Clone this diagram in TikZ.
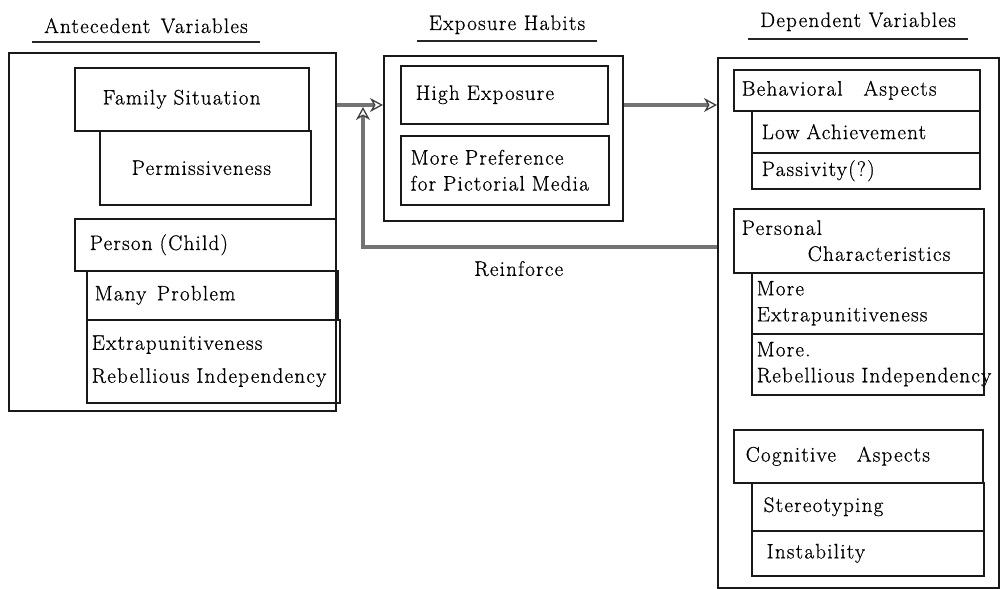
\documentclass[tikz,border=0pt]{standalone}
\usepackage{fontspec}
\setmainfont{Latin Modern Roman}[LetterSpace=6,FakeBold=0.7]
\usetikzlibrary{arrows.meta}
\begin{document}
\begin{tikzpicture}[x=1pt,y=-1pt,
  every node/.style={font=\fontsize{21}{26}\selectfont},
  box/.style={draw=black!90,line width=1.5pt,anchor=north west,inner ysep=0pt,align=left},
  flow/.style={draw=black!55,line width=3.5pt,-{Stealth[open,length=13pt,width=14pt,inset=4pt,line width=1.3pt,black!75]}},
  rule/.style={draw=black!85,line width=1.8pt}]
\useasboundingbox (0,0) rectangle (1005,589);
\def\cell#1#2#3#4#5#6#7{%
  \pgfmathsetmacro\cellw{#4-#2}%
  \pgfmathsetmacro\cellh{#5-#3}%
  \pgfmathsetmacro\cellt{#4-#2-2*#6}%
  \node[box,minimum width=\cellw pt,minimum height=\cellh pt,text width=\cellt pt,inner xsep=#6pt] (#1) at (#2,#3) {#7};}
% titles
\node[anchor=base,inner xsep=12pt] (anttitle) at (146,33) {Antecedent\enspace Variables};
\node[anchor=base,inner xsep=12pt] (expotitle) at (507,30) {Exposure Habits};
\node[anchor=base,inner xsep=12pt] (deptitle) at (858,27) {Dependent Variables};
\draw[rule] ([yshift=-9pt]anttitle.base west) -- ([yshift=-9pt]anttitle.base east);
\draw[rule] ([yshift=-11pt]expotitle.base west) -- ([yshift=-11pt]expotitle.base east);
\draw[rule] ([yshift=-12pt]deptitle.base west) -- ([yshift=-12pt]deptitle.base east);
% antecedent variables
\cell{ante}{8}{52}{335}{410}{0}{}
\cell{fam}{74}{67}{308}{130}{28}{Family Situation}
\cell{perm}{99}{130}{310}{204}{32}{Permissiveness}
\cell{pers}{74}{218}{335}{270}{15}{Person (Child)}
\cell{many}{86}{270}{337}{319}{8}{Many\enspace Problem}
\cell{extr}{86}{319}{339}{402}{5}{Extrapunitiveness\\[7pt]\mbox{Rebellious Independency}}
% exposure habits
\cell{expo}{383}{55}{622}{220}{0}{}
\cell{hi}{400}{65}{607}{123}{15}{High Exposure}
\cell{pref}{400}{135}{608}{204}{10}{More Preference\\\mbox{for Pictorial Media}}
% dependent variables
\cell{dep}{717}{57}{998}{587}{0}{}
\cell{beh}{733}{69}{979}{110}{8}{Behavioral\quad Aspects}
\cell{low}{751}{110}{979}{152}{10}{Low Achievement}
\cell{pas}{751}{152}{979}{188}{10}{Passivity(?)}
\cell{pc}{733}{208}{983}{272}{8}{Personal\\\hspace*{66pt}Characteristics}
\cell{mext}{751}{272}{983}{333}{5}{More\\Extrapunitiveness}
\cell{mreb}{751}{333}{983}{394}{5}{More.\\\mbox{Rebellious Independency}}
\cell{cog}{733}{429}{982}{482}{12}{Cognitive\quad Aspects}
\cell{ster}{751}{482}{983}{530}{12}{Stereotyping}
\cell{inst}{751}{530}{983}{575}{15}{Instability}
% arrows
\coordinate (join) at (363,107);
\draw[flow] ([yshift=-53]ante.north east) -- ([yshift=-50]expo.north west);
\draw[flow] ([yshift=-50]expo.north east) -- ([yshift=-48]dep.north west);
\draw[flow] ([yshift=-190]dep.north west) -| node[pos=0.28,below=9pt] (rein) {Reinforce} (join);
\end{tikzpicture}
\end{document}
